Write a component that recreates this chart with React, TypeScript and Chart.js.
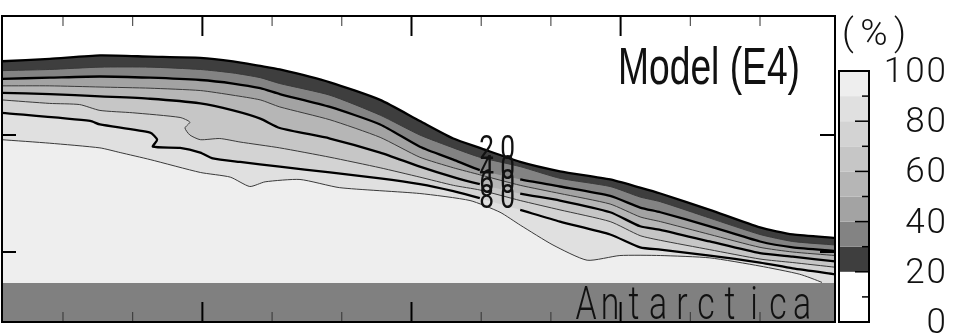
import React, { useEffect, useRef } from 'react';
import { Chart, registerables } from 'chart.js';

Chart.register(...registerables);

// ---- axes (x: distance units, y: height in km) ----
const xMin = 1.25;
const xMax = 120.76;
const yMin = 0.402;
const yMax = 3.017;
const xTicks = [10, 20, 30, 40, 50, 60, 70, 80, 90, 100, 110];
const xMajorTicks = [30, 60, 90];
const yTicks = [1, 2];

// ---- contour lines (percent levels) ----
const xGrid = [1.2, 8.1, 15.3, 22.5, 29.7, 34.4, 38.3, 41.1, 48.3, 55.5, 61.2, 66.0, 69.8, 75.6, 81.3, 88.5, 92.8, 95.7, 102.8, 110.0, 114.7, 120.8];
const level20 = [2.63, 2.65, 2.68, 2.67, 2.66, 2.63, 2.59, 2.56, 2.45, 2.30, 2.12, 1.97, 1.89, 1.77, 1.69, 1.62, 1.55, 1.50, 1.36, 1.21, 1.15, 1.12];
const level30 = [2.55, 2.56, 2.58, 2.58, 2.56, 2.53, 2.49, 2.44, 2.34, 2.17, 2.00, 1.89, 1.81, 1.73, 1.63, 1.56, 1.47, 1.43, 1.29, 1.15, 1.09, 1.06];
const level40 = [2.48, 2.49, 2.50, 2.49, 2.47, 2.44, 2.40, 2.35, 2.24, 2.09, 1.90, 1.79, 1.70, 1.62, 1.56, 1.48, 1.38, 1.34, 1.22, 1.09, 1.04, 1.01];
const level50 = [2.42, 2.42, 2.41, 2.40, 2.38, 2.34, 2.30, 2.24, 2.13, 1.98, 1.81, 1.72, 1.66, 1.57, 1.50, 1.41, 1.30, 1.26, 1.15, 1.04, 1.00, 0.97];
const level60 = [2.36, 2.35, 2.33, 2.31, 2.27, 2.21, 2.14, 2.06, 1.97, 1.85, 1.73, 1.64, 1.58, 1.50, 1.44, 1.34, 1.22, 1.19, 1.09, 0.99, 0.96, 0.92];

const level70X = [1.2, 8.1, 12.4, 15.3, 20.0, 26.8, 28.2, 27.5, 28.2, 29.7, 32.5, 35.4, 41.1, 48.3, 55.5, 61.2, 66.0, 69.8, 75.6, 81.3, 88.5, 92.8, 95.7, 102.8, 110.0, 114.7, 120.8];
const level70 = [2.30, 2.27, 2.26, 2.21, 2.19, 2.15, 2.11, 2.06, 2.00, 1.96, 1.97, 1.94, 1.89, 1.81, 1.72, 1.64, 1.57, 1.53, 1.44, 1.36, 1.26, 1.14, 1.10, 1.02, 0.94, 0.91, 0.87];

const level80X = [1.2, 13.9, 15.3, 22.5, 23.5, 22.9, 26.8, 29.7, 31.5, 35.4, 41.1, 48.3, 55.5, 61.2, 66.0, 69.8, 75.6, 81.3, 88.5, 92.8, 95.7, 102.8, 110.0, 114.7, 120.8];
const level80 = [2.19, 2.12, 2.09, 2.02, 1.96, 1.90, 1.89, 1.85, 1.80, 1.77, 1.73, 1.68, 1.63, 1.58, 1.52, 1.46, 1.36, 1.26, 1.15, 1.04, 1.02, 0.97, 0.91, 0.86, 0.81];

const level90X = [1.2, 8.1, 15.3, 18.2, 22.5, 29.7, 34.0, 36.8, 39.0, 44.0, 49.7, 61.2, 68.4, 72.7, 75.6, 80.3, 85.2, 89.9, 95.7, 102.8, 110.0, 115.7, 118.9, 120.8];
const level90 = [1.96, 1.93, 1.89, 1.85, 1.79, 1.68, 1.64, 1.56, 1.60, 1.62, 1.55, 1.50, 1.44, 1.34, 1.23, 1.06, 0.93, 0.97, 0.97, 0.95, 0.88, 0.81, 0.74, 0.68];

// ---- land ----
const landX = [xMin, xMax];
const landTop = [0.735, 0.735];
const landName = 'Antarctica';
const landColor = '#808080';

// ---- contour labels ----
const labelTexts = ['20', '40', '60', '80'];
const labelX = 72.3;
const labelGap = [69.8, 75.6];

// ---- colour scale ----
const colorbarTickLabels = [0, 20, 40, 60, 80, 100];
const bandColors = ['#ffffff', '#ffffff', '#3e3e3e', '#838383', '#a3a3a3', '#b6b6b6', '#c6c6c6', '#d3d3d3', '#e0e0e0', '#eeeeee'];
const unitLabel = ['(', '%', ')'];
const title = 'Model (E4)';

type Lvl = { v: number; xs: number[]; ys: number[]; thick: boolean };
const levelDefs: Lvl[] = [
  { v: 20, xs: xGrid, ys: level20, thick: true },
  { v: 30, xs: xGrid, ys: level30, thick: false },
  { v: 40, xs: xGrid, ys: level40, thick: true },
  { v: 50, xs: xGrid, ys: level50, thick: false },
  { v: 60, xs: xGrid, ys: level60, thick: true },
  { v: 70, xs: level70X, ys: level70, thick: false },
  { v: 80, xs: level80X, ys: level80, thick: true },
  { v: 90, xs: level90X, ys: level90, thick: false },
];

const zip = (xs: number[], ys: number[]) => xs.map((x, i) => ({ x, y: ys[i] }));

function interpAt(xs: number[], ys: number[], x: number) {
  for (let i = 0; i < xs.length - 1; i++) {
    const a = xs[i], b = xs[i + 1];
    if (b > a && x >= a && x <= b) {
      return ys[i] + ((x - a) / (b - a)) * (ys[i + 1] - ys[i]);
    }
  }
  return ys[ys.length - 1];
}

function buildDatasets() {
  const ds: any[] = [];
  levelDefs.forEach((L, idx) => {
    ds.push({
      data: zip(L.xs, L.ys),
      fill: 'start',
      backgroundColor: bandColors[L.v / 10],
      borderColor: 'rgba(0,0,0,0)',
      borderWidth: 0,
      pointRadius: 0,
      tension: 0.2,
      order: 100 - idx,
    });
  });
  ds.push({
    data: zip(landX, landTop),
    fill: 'start',
    backgroundColor: landColor,
    borderColor: 'rgba(0,0,0,0)',
    borderWidth: 0,
    pointRadius: 0,
    tension: 0,
    order: 90,
  });
  levelDefs.forEach((L, idx) => {
    const hasGap = L.thick && L.v !== 20;
    ds.push({
      data: zip(L.xs, L.ys),
      fill: false,
      borderColor: L.thick ? '#000000' : '#3a3a3a',
      borderWidth: L.thick ? 2.3 : 1,
      pointRadius: 0,
      tension: 0.2,
      order: 10 - idx,
      segment: {
        borderColor: (c: any) => {
          const x0 = L.xs[c.p0DataIndex];
          const x1 = L.xs[c.p1DataIndex];
          if (hasGap && x0 >= labelGap[0] - 0.01 && x1 <= labelGap[1] + 0.01) return 'rgba(0,0,0,0)';
          if (x1 > landX[1] - 2 && L.ys[c.p1DataIndex] < landTop[0]) return 'rgba(0,0,0,0)';
          return undefined;
        },
      },
    });
  });
  return ds;
}

function line(ctx: CanvasRenderingContext2D, x1: number, y1: number, x2: number, y2: number) {
  ctx.beginPath();
  ctx.moveTo(x1, y1);
  ctx.lineTo(x2, y2);
  ctx.stroke();
}

const overlay = {
  id: 'overlay',
  afterDatasetsDraw(chart: any) {
    const { ctx, chartArea: a, scales } = chart;
    const xs = scales.x;
    const ys = scales.y;
    ctx.save();
    ctx.fillStyle = '#111';

    // land name
    ctx.font = '300 47px Roboto';
    ctx.textAlign = 'center';
    ctx.textBaseline = 'alphabetic';
    landName.split('').forEach((ch, i) => {
      ctx.save();
      ctx.translate(586 + i * 24, 319);
      ctx.scale(0.72, 1);
      ctx.fillText(ch, 0, 0);
      ctx.restore();
    });

    // contour labels
    ctx.font = '400 31px Roboto';
    ctx.textBaseline = 'middle';
    const lpx = xs.getPixelForValue(labelX);
    labelTexts.forEach((t) => {
      const L = levelDefs.find((d) => d.v === Number(t))!;
      const py = ys.getPixelForValue(interpAt(L.xs, L.ys, labelX)) - 3;
      ctx.save();
      ctx.translate(lpx - 10.5, py);
      ctx.scale(0.85, 1.05);
      ctx.fillText(t[0], 0, 0);
      ctx.restore();
      ctx.save();
      ctx.translate(lpx + 10.5, py);
      ctx.scale(0.85, 1.05);
      ctx.fillText(t[1], 0, 0);
      ctx.restore();
    });

    // ticks
    xTicks.forEach((v) => {
      const px = xs.getPixelForValue(v);
      const major = xMajorTicks.includes(v);
      ctx.lineWidth = major ? 2 : 1;
      ctx.strokeStyle = major ? '#000' : '#333';
      const len = major ? 20 : 10;
      line(ctx, px, a.top, px, a.top + len);
      line(ctx, px, a.bottom, px, a.bottom - len);
    });
    ctx.strokeStyle = '#000';
    ctx.lineWidth = 2;
    yTicks.forEach((v) => {
      const py = ys.getPixelForValue(v);
      line(ctx, a.left, py, a.left + 14, py);
      line(ctx, a.right, py, a.right - 15, py);
    });

    // frame
    ctx.lineWidth = 2;
    ctx.strokeRect(a.left, a.top, a.right - a.left, a.bottom - a.top);

    // title
    ctx.font = '52px "Liberation Sans", Arial, sans-serif';
    ctx.textAlign = 'left';
    ctx.textBaseline = 'alphabetic';
    const w = ctx.measureText(title).width;
    ctx.save();
    ctx.translate(618, 84);
    ctx.scale(182 / w, 1);
    ctx.fillText(title, 0, 0);
    ctx.restore();

    // colour bar
    const cbL = a.right + 4, cbR = a.right + 34, cbT = 71, cbB = a.bottom;
    const vy = (v: number) => cbB - (v / 100) * (cbB - cbT);
    bandColors.forEach((c, i) => {
      ctx.fillStyle = c;
      ctx.fillRect(cbL, vy((i + 1) * 10), cbR - cbL, vy(i * 10) - vy((i + 1) * 10));
    });
    ctx.strokeStyle = '#000';
    ctx.lineWidth = 1.5;
    for (let v = 10; v < 100; v += 10) {
      const len = v % 20 === 0 ? 14 : 7;
      line(ctx, cbR - len, vy(v), cbR, vy(v));
    }
    ctx.lineWidth = 2;
    ctx.strokeRect(cbL, cbT, cbR - cbL, cbB - cbT);

    ctx.fillStyle = '#111';
    ctx.font = '300 35px Roboto';
    ctx.textAlign = 'left';
    ctx.textBaseline = 'alphabetic';
    colorbarTickLabels.forEach((v) => {
      const s = String(v);
      const sp = 2;
      const widths = s.split('').map((ch) => ctx.measureText(ch).width);
      const total = widths.reduce((p, q) => p + q, 0) + sp * (s.length - 1);
      let x = 946 - total;
      s.split('').forEach((ch, i) => {
        ctx.fillText(ch, x, vy(v) + 11);
        x += widths[i] + sp;
      });
    });

    ctx.font = '300 37px Roboto';
    ctx.textAlign = 'center';
    const ux = [848, 874, 900];
    unitLabel.forEach((ch, i) => ctx.fillText(ch, ux[i], 45));

    ctx.restore();
  },
};

export default function App() {
  const ref = useRef<HTMLCanvasElement>(null);
  useEffect(() => {
    const chart = new Chart(ref.current as HTMLCanvasElement, {
      type: 'line',
      data: { datasets: buildDatasets() },
      options: {
        animation: false,
        responsive: false,
        devicePixelRatio: 1,
        events: [],
        layout: { padding: { left: 2, top: 16, right: 126, bottom: 11 } },
        scales: {
          x: { type: 'linear', min: xMin, max: xMax, display: false },
          y: { type: 'linear', min: yMin, max: yMax, display: false },
        },
        plugins: {
          legend: { display: false },
          tooltip: { enabled: false },
          filler: { drawTime: 'beforeDatasetsDraw', propagate: false },
        } as any,
        elements: { point: { radius: 0 } },
      },
      plugins: [overlay],
    } as any);
    return () => chart.destroy();
  }, []);
  return (
    <div style={{ position: 'absolute', left: 0, top: 0, width: 961, height: 333, background: '#fff' }}>
      <canvas ref={ref} width={961} height={333} style={{ display: 'block', width: 961, height: 333 }} />
    </div>
  );
}
